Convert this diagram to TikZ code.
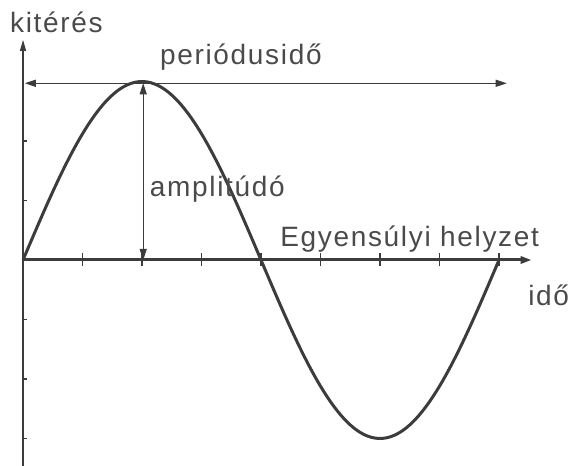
\documentclass[tikz,border=0pt]{standalone}
\usepackage{fontspec}
\setmainfont[LetterSpace=6]{Liberation Sans}
\usetikzlibrary{arrows.meta}
\definecolor{ink}{HTML}{3C3C3C}
\definecolor{inklabel}{HTML}{4A4A4A}
\tikzset{
  axisline/.style={ink, line width=1.3pt},
  timeline/.style={ink, line width=3pt, -{Triangle[length=11pt,width=7pt]}},
  measure/.style={ink, line width=1.1pt, {Triangle[length=11pt,width=7pt]}-{Triangle[length=11pt,width=7pt]}},
  wave/.style={ink, line width=3pt},
  tick/.style={ink, line width=1.1pt},
  lbl/.style={inklabel, inner sep=0pt, anchor=base west}
}
\begin{document}
\begin{tikzpicture}[x=59.5pt, y=59.5pt, font=\fontsize{28}{32}\selectfont]
  \useasboundingbox (-0.387,-3.462) rectangle (9.244,4.370);
  \coordinate (O) at (0,0);
  \coordinate (ybot) at (0,-3.47);
  \coordinate (ytop) at (0,3.7);
  \coordinate (xend) at (8.55,0);
  \coordinate (perL) at (0.03,2.97);
  \coordinate (perR) at (8.13,2.97);
  \coordinate (ampTop) at (2.02,2.97);
  \coordinate (ampBot) at (2.02,0);

  \draw[axisline, -{Triangle[length=11pt,width=6pt]}] (ybot) -- (ytop);
  \foreach \k in {-3,-2,-1,1,2}
    \draw[tick] (0,\k) -- ++(0.07,0);
  \draw[timeline] (O) -- (xend);
  \foreach \k in {1,...,8}
    \draw[tick] (\k,-0.1) -- (\k,0.12);

  \draw[wave, domain=0:8, samples=120, smooth] plot (\x, {3*sin(45*\x)});

  \draw[measure] (perL) -- (perR);
  \draw[measure] (ampBot) -- (ampTop);

  \node[lbl] (kiteres) at (-0.22,3.83) {kitérés};
  \node[lbl] (periodus) at (2.30,3.28) {periódusidő};
  \node[lbl] (amplitudo) at (2.13,1.06) {amplitúdó};
  \node[lbl] (egyensuly) at (4.32,0.22) {Egyensúlyi helyzet};
  \node[lbl] (ido) at (8.49,-0.76) {idő};
\end{tikzpicture}
\end{document}
